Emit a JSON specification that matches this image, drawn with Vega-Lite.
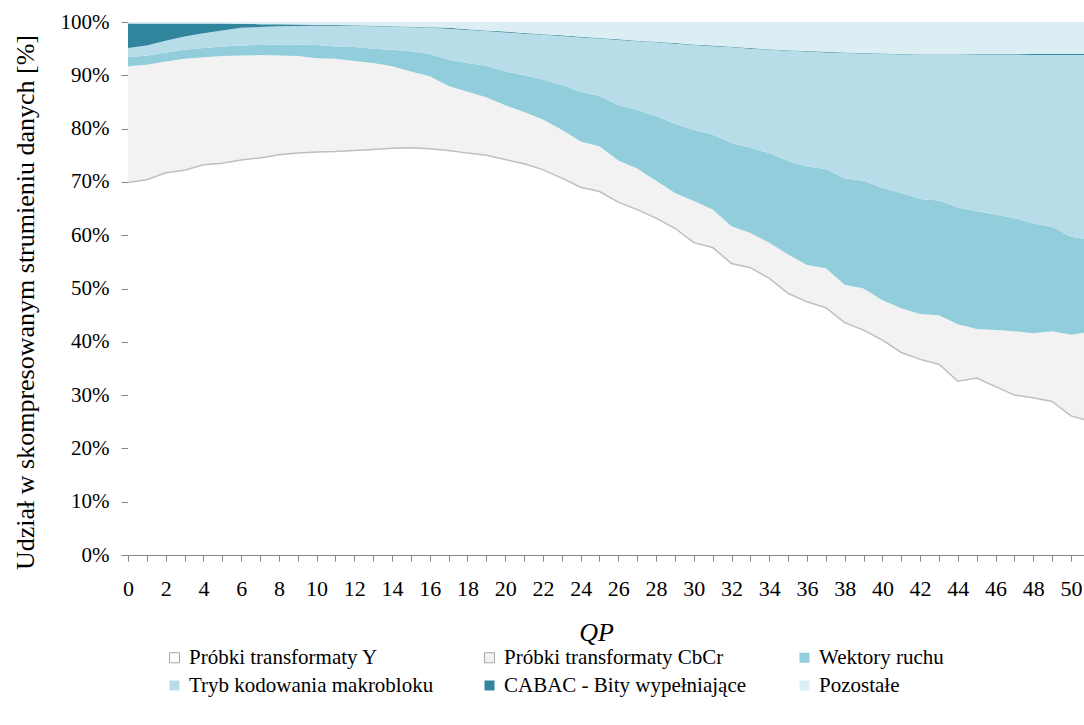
{
  "$schema": "https://vega.github.io/schema/vega-lite/v6.json",
  "width": 956,
  "height": 533,
  "autosize": "none",
  "padding": {"left": 128, "top": 22, "right": 0, "bottom": 170},
  "background": "white",
  "config": {
    "font": "Times New Roman",
    "view": {"stroke": "#d9d9d9"}
  },
  "data": {"values": [
    {"QP":0,"Y":69.9,"CbCr":21.8,"MV":1.7,"Mode":1.7,"CABAC":4.6,"Other":0.3},
    {"QP":1,"Y":70.4,"CbCr":21.6,"MV":1.7,"Mode":1.9,"CABAC":4.1,"Other":0.3},
    {"QP":2,"Y":71.7,"CbCr":20.9,"MV":1.7,"Mode":2.2,"CABAC":3.2,"Other":0.3},
    {"QP":3,"Y":72.2,"CbCr":20.9,"MV":1.7,"Mode":2.5,"CABAC":2.4,"Other":0.3},
    {"QP":4,"Y":73.2,"CbCr":20.2,"MV":1.7,"Mode":2.8,"CABAC":1.8,"Other":0.3},
    {"QP":5,"Y":73.5,"CbCr":20.1,"MV":1.8,"Mode":3.0,"CABAC":1.3,"Other":0.3},
    {"QP":6,"Y":74.1,"CbCr":19.6,"MV":1.9,"Mode":3.3,"CABAC":0.75,"Other":0.35},
    {"QP":7,"Y":74.5,"CbCr":19.3,"MV":1.9,"Mode":3.35,"CABAC":0.55,"Other":0.4},
    {"QP":8,"Y":75.1,"CbCr":18.6,"MV":2.1,"Mode":3.4,"CABAC":0.4,"Other":0.4},
    {"QP":9,"Y":75.4,"CbCr":18.2,"MV":2.2,"Mode":3.45,"CABAC":0.3,"Other":0.45},
    {"QP":10,"Y":75.6,"CbCr":17.6,"MV":2.5,"Mode":3.6,"CABAC":0.2,"Other":0.5},
    {"QP":11,"Y":75.7,"CbCr":17.4,"MV":2.3,"Mode":3.9,"CABAC":0.15,"Other":0.55},
    {"QP":12,"Y":75.9,"CbCr":16.8,"MV":2.6,"Mode":4.0,"CABAC":0.1,"Other":0.6},
    {"QP":13,"Y":76.1,"CbCr":16.2,"MV":2.7,"Mode":4.2,"CABAC":0.1,"Other":0.7},
    {"QP":14,"Y":76.3,"CbCr":15.4,"MV":3.1,"Mode":4.3,"CABAC":0.1,"Other":0.8},
    {"QP":15,"Y":76.4,"CbCr":14.3,"MV":3.8,"Mode":4.5,"CABAC":0.1,"Other":0.9},
    {"QP":16,"Y":76.2,"CbCr":13.6,"MV":4.2,"Mode":4.9,"CABAC":0.1,"Other":1.0},
    {"QP":17,"Y":75.9,"CbCr":12.1,"MV":4.9,"Mode":5.85,"CABAC":0.15,"Other":1.1},
    {"QP":18,"Y":75.4,"CbCr":11.5,"MV":5.4,"Mode":6.2,"CABAC":0.15,"Other":1.35},
    {"QP":19,"Y":75.0,"CbCr":10.9,"MV":5.9,"Mode":6.5,"CABAC":0.1,"Other":1.6},
    {"QP":20,"Y":74.2,"CbCr":10.2,"MV":6.3,"Mode":7.35,"CABAC":0.15,"Other":1.8},
    {"QP":21,"Y":73.4,"CbCr":9.7,"MV":6.9,"Mode":7.8,"CABAC":0.15,"Other":2.05},
    {"QP":22,"Y":72.3,"CbCr":9.4,"MV":7.5,"Mode":8.4,"CABAC":0.1,"Other":2.3},
    {"QP":23,"Y":70.7,"CbCr":9.1,"MV":8.4,"Mode":9.15,"CABAC":0.15,"Other":2.5},
    {"QP":24,"Y":69.0,"CbCr":8.6,"MV":9.3,"Mode":10.2,"CABAC":0.15,"Other":2.75},
    {"QP":25,"Y":68.2,"CbCr":8.5,"MV":9.4,"Mode":10.8,"CABAC":0.1,"Other":3.0},
    {"QP":26,"Y":66.2,"CbCr":7.8,"MV":10.4,"Mode":12.2,"CABAC":0.15,"Other":3.25},
    {"QP":27,"Y":64.8,"CbCr":7.7,"MV":11.0,"Mode":12.9,"CABAC":0.1,"Other":3.5},
    {"QP":28,"Y":63.2,"CbCr":7.0,"MV":12.1,"Mode":13.9,"CABAC":0.1,"Other":3.7},
    {"QP":29,"Y":61.3,"CbCr":6.6,"MV":13.0,"Mode":15.0,"CABAC":0.15,"Other":3.95},
    {"QP":30,"Y":58.6,"CbCr":7.8,"MV":13.4,"Mode":15.9,"CABAC":0.1,"Other":4.2},
    {"QP":31,"Y":57.7,"CbCr":7.1,"MV":14.1,"Mode":16.55,"CABAC":0.15,"Other":4.4},
    {"QP":32,"Y":54.7,"CbCr":7.0,"MV":15.6,"Mode":17.95,"CABAC":0.1,"Other":4.65},
    {"QP":33,"Y":53.9,"CbCr":6.5,"MV":16.0,"Mode":18.6,"CABAC":0.1,"Other":4.9},
    {"QP":34,"Y":51.9,"CbCr":6.7,"MV":16.8,"Mode":19.4,"CABAC":0.1,"Other":5.1},
    {"QP":35,"Y":49.1,"CbCr":7.3,"MV":17.5,"Mode":20.7,"CABAC":0.1,"Other":5.3},
    {"QP":36,"Y":47.5,"CbCr":6.9,"MV":18.5,"Mode":21.55,"CABAC":0.1,"Other":5.45},
    {"QP":37,"Y":46.4,"CbCr":7.4,"MV":18.6,"Mode":21.9,"CABAC":0.1,"Other":5.6},
    {"QP":38,"Y":43.6,"CbCr":7.1,"MV":20.0,"Mode":23.5,"CABAC":0.1,"Other":5.7},
    {"QP":39,"Y":42.2,"CbCr":7.8,"MV":20.2,"Mode":23.9,"CABAC":0.1,"Other":5.8},
    {"QP":40,"Y":40.3,"CbCr":7.5,"MV":21.1,"Mode":25.1,"CABAC":0.1,"Other":5.9},
    {"QP":41,"Y":38.0,"CbCr":8.3,"MV":21.6,"Mode":26.0,"CABAC":0.1,"Other":6.0},
    {"QP":42,"Y":36.7,"CbCr":8.5,"MV":21.6,"Mode":27.0,"CABAC":0.1,"Other":6.1},
    {"QP":43,"Y":35.8,"CbCr":9.2,"MV":21.5,"Mode":27.3,"CABAC":0.1,"Other":6.1},
    {"QP":44,"Y":32.6,"CbCr":10.7,"MV":21.9,"Mode":28.6,"CABAC":0.1,"Other":6.1},
    {"QP":45,"Y":33.2,"CbCr":9.2,"MV":22.1,"Mode":29.3,"CABAC":0.15,"Other":6.05},
    {"QP":46,"Y":31.6,"CbCr":10.6,"MV":21.7,"Mode":29.9,"CABAC":0.15,"Other":6.05},
    {"QP":47,"Y":30.0,"CbCr":12.0,"MV":21.2,"Mode":30.6,"CABAC":0.15,"Other":6.05},
    {"QP":48,"Y":29.5,"CbCr":12.1,"MV":20.6,"Mode":31.6,"CABAC":0.2,"Other":6.0},
    {"QP":49,"Y":28.8,"CbCr":13.2,"MV":19.6,"Mode":32.2,"CABAC":0.2,"Other":6.0},
    {"QP":50,"Y":26.1,"CbCr":15.2,"MV":18.4,"Mode":34.1,"CABAC":0.2,"Other":6.0},
    {"QP":51,"Y":25.1,"CbCr":16.8,"MV":17.3,"Mode":34.6,"CABAC":0.2,"Other":6.0}
  ]},
  "transform": [
    {"fold": ["Y", "CbCr", "MV", "Mode", "CABAC", "Other"], "as": ["s", "v"]},
    {"calculate": "indexof(['Y','CbCr','MV','Mode','CABAC','Other'], datum.s)", "as": "o"}
  ],
  "encoding": {
    "x": {
      "field": "QP", "type": "quantitative",
      "scale": {"domain": [0, 50.69], "nice": false, "zero": false},
      "axis": {
        "values": [0,1,2,3,4,5,6,7,8,9,10,11,12,13,14,15,16,17,18,19,20,21,22,23,24,25,26,27,28,29,30,31,32,33,34,35,36,37,38,39,40,41,42,43,44,45,46,47,48,49,50],
        "labelExpr": "datum.value % 2 == 0 ? '' + datum.value : ''",
        "grid": false, "domainColor": "#868686", "tickColor": "#868686", "tickSize": 6,
        "labelFont": "Liberation Serif", "labelFontSize": 22, "labelPadding": 17, "labelColor": "black",
        "labelFlush": false, "labelOverlap": false,
        "title": "QP", "titleFont": "Liberation Serif", "titleFontStyle": "italic", "titleFontSize": 26, "titleFontWeight": "normal",
        "titleColor": "black", "titleX": 468, "titleY": 77, "titleBaseline": "middle"
      }
    }
  },
  "layer": [
    {
      "mark": {"type": "area", "clip": true, "interpolate": "linear"},
      "encoding": {
        "y": {
          "field": "v", "type": "quantitative", "stack": "zero",
          "scale": {"domain": [0, 100], "nice": false},
          "axis": {
            "values": [0,10,20,30,40,50,60,70,80,90,100],
            "labelExpr": "datum.value + '%'",
            "grid": false, "domainColor": "#868686", "tickColor": "#868686", "tickSize": 7,
            "labelFont": "Liberation Serif", "labelFontSize": 21, "labelColor": "black", "labelPadding": 12,
            "title": "Udział w skompresowanym strumieniu danych [%]",
            "titleFont": "Liberation Serif", "titleFontSize": 26, "titleFontWeight": "normal", "titleColor": "black",
            "titleX": -103, "titleY": 280, "titleBaseline": "middle", "titleAngle": -90
          }
        },
        "color": {
          "field": "s", "type": "nominal",
          "scale": {
            "domain": ["Y", "CbCr", "MV", "Mode", "CABAC", "Other"],
            "range": ["#ffffff", "#f2f2f2", "#92cddc", "#b7dee8", "#31859c", "#dbeef4"]
          },
          "legend": {
            "orient": "none", "legendX": 36, "legendY": 625,
            "direction": "horizontal", "columns": 3, "title": null,
            "symbolType": "square", "symbolSize": 100, "symbolOpacity": 1,
            "labelFont": "Liberation Serif", "labelFontSize": 21, "labelColor": "black", "labelLimit": 400,
            "gridAlign": "all", "columnPadding": 45, "rowPadding": 6,
            "labelExpr": "datum.label == 'Y' ? 'Próbki transformaty Y' : datum.label == 'CbCr' ? 'Próbki transformaty CbCr' : datum.label == 'MV' ? 'Wektory ruchu' : datum.label == 'Mode' ? 'Tryb kodowania makrobloku' : datum.label == 'CABAC' ? 'CABAC - Bity wypełniające' : 'Pozostałe'",
            "encode": {"symbols": {"update": {"stroke": {"value": "#a6a6a6"}, "strokeWidth": {"signal": "datum.index < 2 ? 1 : 0"}}}}
          }
        },
        "order": {"field": "o", "type": "quantitative", "sort": "ascending"}
      }
    },
    {
      "transform": [{"filter": "datum.s == 'Y'"}],
      "mark": {"type": "line", "clip": true, "color": "#bfbfbf", "strokeWidth": 1.5},
      "encoding": {"y": {"field": "v", "type": "quantitative"}}
    }
  ]
}
